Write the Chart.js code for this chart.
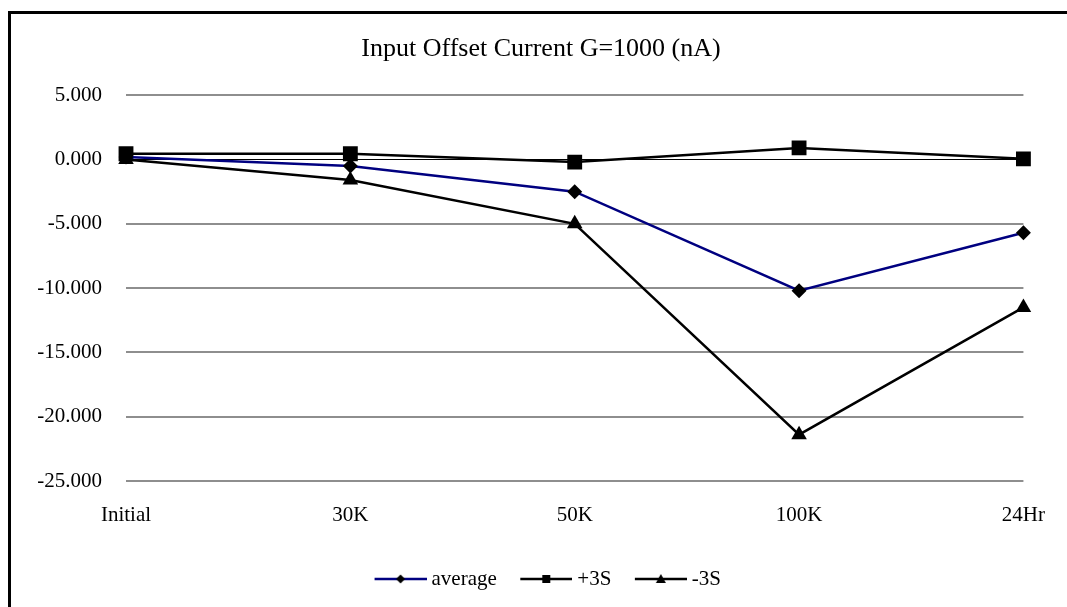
<!DOCTYPE html>
<html>
<head>
<meta charset="utf-8">
<script src="https://cdn.jsdelivr.net/npm/chart.js"></script>
<style>
    html, body { margin: 0; padding: 0; background: #fff; overflow: hidden; }
    #frame { position: absolute; left: 8px; top: 11px; width: 1100px; height: 650px; border: 3px solid #000; }
    #wrap { position: absolute; left: 0; top: 0; width: 1067px; height: 607px; }
</style>
</head>
<body>
<div id="frame"></div>
<div id="wrap"><canvas id="myChart"></canvas></div>
<script>
const categories = ['Initial', '30K', '50K', '100K', '24Hr'];
const average = [0.2, -0.5, -2.5, -10.2, -5.7];
const plus3S = [0.45, 0.45, -0.2, 0.9, 0.05];
const minus3S = [0.0, -1.6, -5.0, -21.4, -11.5];
const yTicks = [5, 0, -5, -10, -15, -20, -25];

const serif = "'Liberation Serif', 'Times New Roman', serif";

// legend icon: line with a marker in the middle
function legendIcon(color, style) {
    const c = document.createElement('canvas');
    c.width = 71;
    c.height = 20;
    const g = c.getContext('2d');
    g.strokeStyle = color;
    g.lineWidth = 2.5;
    g.beginPath();
    g.moveTo(19, 10);
    g.lineTo(71, 10);
    g.stroke();
    g.fillStyle = '#000';
    g.beginPath();
    if (style == 'diamond') {
        g.moveTo(45, 5.5); g.lineTo(49.5, 10); g.lineTo(45, 14.5); g.lineTo(40.5, 10);
    } else if (style == 'square') {
        g.rect(41, 6, 8, 8);
    } else {
        g.moveTo(45, 5); g.lineTo(50, 14); g.lineTo(40, 14);
    }
    g.closePath();
    g.fill();
    return c;
}

const icons = [legendIcon('#000080', 'diamond'), legendIcon('#000', 'square'), legendIcon('#000', 'triangle')];

const ctx = document.getElementById('myChart');
const chart = new Chart(ctx, {
    type: 'line',
    data: {
        labels: categories,
        datasets: [{
            label: 'average',
            data: average,
            borderColor: '#000080',
            backgroundColor: '#000',
            borderWidth: 2.5,
            pointStyle: 'rectRot',
            pointRadius: 7.5,
            pointBackgroundColor: '#000',
            pointBorderColor: '#000',
            pointBorderWidth: 0
        }, {
            label: '+3S',
            data: plus3S,
            borderColor: '#000',
            backgroundColor: '#000',
            borderWidth: 2.5,
            pointStyle: 'rect',
            pointRadius: 10.5,
            pointBackgroundColor: '#000',
            pointBorderColor: '#000',
            pointBorderWidth: 0
        }, {
            label: '-3S',
            data: minus3S,
            borderColor: '#000',
            backgroundColor: '#000',
            borderWidth: 2.5,
            pointStyle: 'triangle',
            pointRadius: 9,
            pointBackgroundColor: '#000',
            pointBorderColor: '#000',
            pointBorderWidth: 0
        }]
    },
    options: {
        responsive: true,
        maintainAspectRatio: false,
        devicePixelRatio: 1,
        animation: false,
        layout: {
            padding: { left: 52, right: 37, top: 0, bottom: 7.5 }
        },
        elements: {
            line: { tension: 0 }
        },
        scales: {
            x: {
                offset: false,
                grid: { display: false, drawTicks: false },
                border: { display: false },
                ticks: {
                    color: '#000',
                    padding: 22,
                    maxRotation: 0,
                    font: { family: serif, size: 21 }
                },
                afterFit: (scale) => { scale.height = 77.5; }
            },
            y: {
                min: -25,
                max: 5,
                afterBuildTicks: (scale) => { scale.ticks = yTicks.map(v => ({ value: v })); },
                grid: {
                    drawTicks: false,
                    color: (c) => c.tick && c.tick.value === 0 ? '#000' : '#8e8e8e',
                    lineWidth: (c) => c.tick && c.tick.value === 0 ? 1 : 2
                },
                border: { display: false },
                ticks: {
                    color: '#000',
                    padding: 24,
                    font: { family: serif, size: 21 },
                    callback: (v) => Number(v).toFixed(3)
                },
                afterFit: (scale) => {
                    scale.width = 74;
                    // labels are wider than the narrowed axis box, don't clip them
                    scale._computeLabelArea = () => null;
                }
            }
        },
        plugins: {
            title: {
                display: true,
                text: 'Input Offset Current G=1000 (nA)',
                color: '#000',
                font: { family: serif, size: 26, weight: 'normal' },
                padding: { top: 34, bottom: 30 }
            },
            legend: {
                position: 'bottom',
                labels: {
                    color: '#000',
                    font: { family: serif, size: 21 },
                    usePointStyle: true,
                    pointStyleWidth: 60,
                    padding: 10,
                    generateLabels: (ch) => ch.data.datasets.map((ds, i) => ({
                        text: ds.label,
                        pointStyle: icons[i],
                        fillStyle: '#000',
                        strokeStyle: '#000',
                        lineWidth: 0,
                        fontColor: '#000',
                        hidden: false,
                        datasetIndex: i
                    }))
                }
            },
            tooltip: { enabled: false }
        }
    }
});
</script>
</body>
</html>
